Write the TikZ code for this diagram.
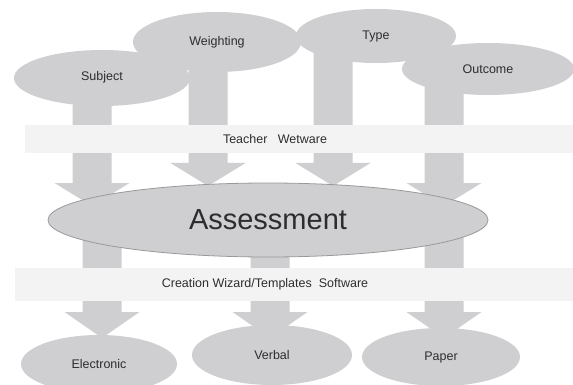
\documentclass[tikz,border=0pt]{standalone}
\usepackage{fontspec}
\setmainfont{Liberation Sans}
\usetikzlibrary{shapes.geometric}
\definecolor{shapegray}{RGB}{207,207,210}
\definecolor{bandgray}{RGB}{243,243,243}
\definecolor{txtgray}{RGB}{45,45,45}
\newcommand\blkarrow[4]{% x, shaft top y, head base y, tip y
  \fill[arr] (#1-19.5,#2) -- (#1+19.5,#2) -- (#1+19.5,#3) -- (#1+37.5,#3)
    -- (#1,#4) -- (#1-37.5,#3) -- (#1-19.5,#3) -- cycle;}
\begin{document}
\begin{tikzpicture}[x=1pt,y=-1pt,
  oval/.style={ellipse, fill=shapegray, inner sep=0pt, text=txtgray,
    font=\fontsize{12.5}{15}\selectfont},
  arr/.style={fill=shapegray},
  band/.style={rectangle, fill=bandgray, inner sep=0pt},
  bandtext/.style={text=txtgray, inner sep=0pt, font=\fontsize{12.5}{15}\selectfont}]
\useasboundingbox[fill=white] (0,0) rectangle (573,385);
% top arrows (behind ellipses)
\blkarrow{92}{80}{183}{206}
\blkarrow{208}{50}{163}{186}
\blkarrow{333}{40}{163}{186}
\blkarrow{444}{70}{183}{206}
% top ellipses
\node[oval, minimum width=176pt, minimum height=56pt] (subj) at (102,78) {\raisebox{5pt}{Subject}};
\node[oval, minimum width=168pt, minimum height=60pt] (weight) at (217,42) {Weighting};
\node[oval, minimum width=160pt, minimum height=54pt] (type) at (376,36) {\raisebox{-2pt}{Type}};
\node[oval, minimum width=172pt, minimum height=52pt] (outc) at (488,69) {Outcome};
% teacher band
\node[band, minimum width=548pt, minimum height=28pt, anchor=north west] (wet) at (25,125) {};
\node[bandtext] (wettxt) at (275,139) {Teacher\ \ \ Wetware};
% bottom arrows (behind assessment)
\blkarrow{102}{225}{312}{338}
\blkarrow{270}{225}{312}{338}
\blkarrow{444}{225}{312}{338}
% assessment
\node[ellipse, fill=shapegray, draw=black!40, line width=0.8pt, inner sep=0pt,
  minimum width=440pt, minimum height=74pt, text=txtgray,
  font=\fontsize{29}{34}\selectfont] (ass) at (268,220) {Assessment};
% software band
\node[band, minimum width=558pt, minimum height=33pt, anchor=north west] (soft) at (15,268) {};
\node[bandtext] (softtxt) at (265,284) {Creation Wizard/Templates\ \ Software};
% bottom ellipses
\node[oval, minimum width=156pt, minimum height=58pt] (elec) at (99,364) {\raisebox{-1pt}{Electronic}};
\node[oval, minimum width=160pt, minimum height=60pt] (verb) at (272,355) {Verbal};
\node[oval, minimum width=158pt, minimum height=58pt] (paper) at (441,357) {Paper};
\end{tikzpicture}
\end{document}
